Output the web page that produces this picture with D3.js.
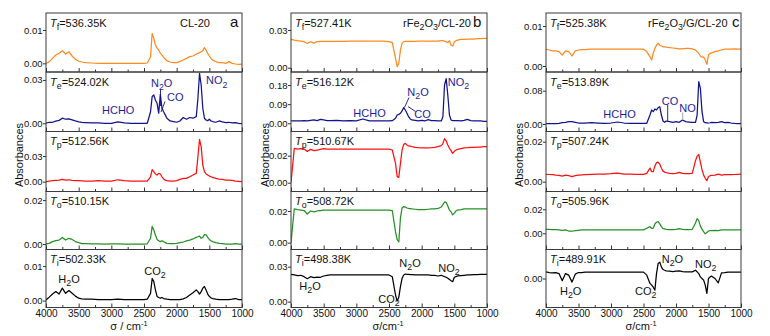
<!DOCTYPE html>
<html><head><meta charset="utf-8">
<script src="https://cdn.jsdelivr.net/npm/d3@7"></script>
<style>
body{margin:0;background:#fff}
svg{display:block}
text{font-family:"Liberation Sans",Arial,sans-serif;fill:#111}
</style>
</head><body>
<svg id="chart" width="770" height="336"></svg>
<script>
// ---------- DATA ----------
const wavenumbers = [
  4000,3950,3900,3850,3800,3750,3700,3650,3600,3550,3500,3450,3400,
  3300,3200,3100,3000,2900,2800,2700,2600,2500,
  2450,2400,2375,2350,2325,2300,2275,2250,2225,2200,2175,2150,
  2100,2050,2000,1950,1900,1850,1800,1750,1700,
  1675,1650,1625,1600,1575,1550,1525,1500,1475,1450,
  1400,1350,1300,1250,1200,1150,1100,1050,1000];
const xMajorTicks = [4000,3500,3000,2500,2000,1500,1000];
const xMinorTicks = [3750,3250,2750,2250,1750,1250];

// panel a : CL-20
const a_Tf = [0,.0005,.0015,.0025,.003,.0038,.0028,.0035,.0022,.0012,.0007,.0004,.0002,
  .0001,0,0,0,0,0,0,0,0,
  .0001,.002,.009,.0075,.0055,.0045,.004,.003,.0025,.0018,.0012,.0008,
  .0004,.0002,.0002,.0005,.001,.0015,.002,.0022,.0028,
  .003,.0032,.0035,.0038,.0047,.004,.003,.0022,.0015,.001,
  .0005,.0002,.0002,0,.0005,0,-.0002,-.0003,-.0002];
const a_Te = [0,.0007,.0007,.0015,.002,.0035,.0028,.003,.0023,.0016,.001,.0007,.0005,
  .0002,.0002,0,0,.001,.0002,0,0,0,
  0,.008,.0185,.0196,.016,.0138,.007,.02,.0104,.008,.0058,.0035,
  .0016,.0012,.0007,.0016,.004,.0028,.004,.0035,.0046,
  .017,.0346,.0265,.0104,.0035,.0023,.0018,.0028,.0016,.0012,
  .0007,.0016,.0009,.0005,.0007,.0002,.0005,0,-.0002];
const a_Tp = [0,.0008,.0012,.0016,.0019,.0027,.0019,.0023,.0016,.0014,.0012,.001,.0008,
  .0008,.0012,.0008,.0008,.0023,.0012,.0008,.0008,.0008,
  .0008,.0058,.014,.0117,.009,.0078,.0097,.009,.0058,.0031,.0019,.0012,
  .0008,.0008,.0012,.0027,.0039,.0039,.0058,.0078,.0097,
  .029,.0495,.041,.0195,.0117,.009,.0078,.0066,.0058,.005,
  .0039,.0031,.0027,.0019,.0019,.0016,.0008,.0004,0];
const a_To = [0,.0003,.0011,.0015,.0018,.003,.0018,.0026,.0021,.0011,.0006,.0002,.0002,
  .0001,.0001,0,.0001,.0001,0,0,0,0,
  .0001,.0026,.008,.0064,.0041,.0021,.0015,.0011,.0015,.0011,.0006,.0003,
  .0002,.0002,.0003,.0006,.0009,.0014,.0018,.0023,.003,
  .0033,.0036,.0026,.003,.0043,.0042,.003,.0021,.0015,.0011,
  .0006,.0003,.0002,0,0,0,.0002,0,0];
const a_Ti = [.0002,.001,.0019,.0026,.0019,.0036,.0021,.0029,.0021,.0013,.0007,.0005,.0004,
  .0004,.0003,.0003,.0003,.0004,.0003,.0003,.0003,.0003,
  .0004,.0021,.0064,.0055,.0031,.0012,.0009,.0007,.0009,.0006,.0005,.0004,
  .0003,.0003,.0003,.0003,.0005,.0009,.0016,.0023,.0031,
  .0026,.0019,.0026,.0036,.0041,.0031,.0019,.0012,.0008,.0006,
  .0004,.0003,.0003,.0003,.0003,.0004,.0006,.0003,.0003];

// panel b : rFe2O3/CL-20
const b_Tf = [.0226,.022,.0215,.0212,.0207,.0192,.0207,.0196,.0207,.021,.021,.021,.021,
  .021,.021,.0212,.0212,.0212,.0212,.0212,.0212,.0207,
  .0199,.0074,.0008,.0035,.0141,.0194,.0207,.021,.021,.021,.021,.021,
  .021,.0212,.0212,.0212,.0212,.0212,.0212,.0212,.0215,
  .0215,.0212,.0207,.0199,.0215,.018,.0173,.0207,.0215,.022,
  .0226,.0226,.0228,.0228,.0228,.0231,.0231,.0234,.0234];
const b_Te = [.011,.011,.011,.0118,.0125,.011,.0141,.0157,.0125,.0188,.0157,.0125,.0125,
  .0141,.011,.0125,.011,.0203,.011,.011,.011,.011,
  .0125,.0235,.039,.042,.047,.058,.0736,.0626,.047,.031,.0203,.0157,
  .0141,.011,.0141,.011,.0172,.0125,.0125,.011,.011,
  .031,.18,.21,.133,.039,.0157,.0125,.0125,.0125,.0125,
  .011,.0141,.0188,.0125,.011,.011,.011,.0094,.0094];
const b_Tp = [0,.0254,.0249,.0252,.0249,.0232,.0247,.0237,.0242,.0247,.0252,.0249,.0249,
  .0249,.0249,.0249,.0249,.0249,.0249,.0249,.0249,.0249,
  .0242,.0143,.0045,.004,.0143,.0242,.0284,.0291,.0279,.0272,.027,.0267,
  .0262,.0259,.0257,.0257,.0257,.0259,.0262,.0267,.0275,
  .029,.0326,.031,.0279,.0255,.0237,.0217,.0232,.0242,.0247,
  .0252,.0257,.0259,.0262,.0262,.0264,.0264,.0267,.0267];
const b_To = [0,.0213,.0209,.0206,.0203,.0181,.02,.0194,.02,.0203,.0206,.0206,.0206,
  .0206,.0206,.0206,.0206,.0206,.0206,.0206,.0206,.0206,
  .0203,.0068,.002,.0005,.0156,.0219,.0228,.0225,.0219,.0216,.0215,.0213,
  .0211,.0209,.0209,.0209,.0211,.0213,.0213,.0216,.0225,
  .024,.0257,.0255,.0232,.0206,.0194,.0175,.0187,.02,.0206,
  .0209,.0213,.0213,.0213,.0213,.0213,.0213,.0213,.0213];
const b_Ti = [.0234,.0229,.0223,.0226,.0214,.0197,.0214,.0206,.0211,.0209,.022,.0226,.0229,
  .0229,.0229,.0229,.0229,.0229,.0229,.0229,.0229,.0229,
  .0214,.0057,.0006,.0037,.0129,.02,.0229,.0237,.0234,.0234,.0231,.0231,
  .0229,.0229,.0229,.0229,.0229,.0226,.0226,.022,.0226,
  .022,.0214,.0209,.02,.0191,.018,.0171,.0209,.0214,.022,
  .0223,.0226,.0229,.0229,.0231,.0231,.0234,.0234,.0234];

// panel c : rFe2O3/G/CL-20
const c_Tf = [.0042,.004,.0038,.0038,.0036,.0027,.0038,.0036,.0025,.0038,.004,.0041,.0041,
  .0042,.0042,.0042,.0042,.0042,.0042,.0042,.0042,.0042,
  .0036,.0023,.0015,.0032,.0044,.0052,.0057,.0052,.005,.0048,.0048,.0047,
  .0046,.0045,.0044,.0043,.0043,.0044,.0044,.0043,.004,
  .0036,.0032,.0025,.0022,.0023,.0015,.0004,.0028,.0031,.0033,
  .0036,.0038,.004,.0042,.0042,.0042,.0043,.0042,.0042];
const c_Te = [.0008,.0008,.0008,.0012,.0016,.0032,.004,.0056,.0056,.004,.0024,.0024,.0024,
  .0032,.0024,.0016,.0024,.0048,.0024,.0016,.0016,.0016,
  .0016,.0216,.0336,.0296,.036,.0336,.0392,.0416,.0216,.0072,.004,.0072,
  .0056,.004,.0056,.004,.0096,.0056,.0048,.004,.004,
  .0216,.1016,.0856,.0296,.0056,.0032,.0028,.0024,.003,.004,
  .0032,.004,.0056,.0032,.004,.0024,.0016,.0012,.0008];
const c_Tp = [.0037,.0036,.0035,.0033,.0032,.0028,.0033,.003,.0025,.003,.0033,.0034,.0035,
  .0037,.0038,.0038,.004,.0043,.0038,.0038,.0037,.0037,
  .0042,.0068,.005,.005,.0078,.0095,.0098,.0088,.0067,.0053,.0048,.0045,
  .0042,.004,.0042,.0047,.0042,.004,.004,.0042,.0105,
  .0128,.0136,.0098,.006,.0033,.0017,.0005,.0026,.003,.0032,
  .0033,.0038,.0033,.0035,.0035,.0035,.0036,.0037,.0038];
const c_To = [.0033,.0032,.0031,.003,.0028,.0025,.0028,.0019,.0017,.0022,.0025,.0028,.0028,
  .0028,.0028,.0028,.0028,.0028,.0028,.0028,.0028,.0028,
  .0042,.0055,.004,.0042,.0078,.0092,.0097,.0078,.0055,.0039,.0036,.0033,
  .0031,.0031,.0033,.0039,.0033,.0031,.0031,.0033,.0085,
  .0122,.0105,.006,.0035,.0014,-.0004,.0006,.0019,.0022,.0022,
  .0025,.0022,.0028,.0028,.0028,.0028,.0028,.0028,.0028];
const c_Ti = [.0046,.0041,.0039,.0041,.0034,-.0015,.0034,.0023,-.0025,.003,.0041,.0041,.0044,
  .0044,.0044,.0044,.0044,.0044,.0044,.0044,.0044,.0044,
  .0023,-.0034,-.0046,-.006,-.008,.0034,.0103,.0112,.008,.0062,.0057,.0053,
  .0051,.0048,.0051,.0053,.0048,.0046,.0046,.0046,.0057,
  .0046,.0034,.0011,0,-.0011,-.0046,-.0103,0,.0011,.0016,
  0,-.003,.0039,.0041,.0044,.0044,.0044,.0044,.0044];

const stageSubs = ["f","e","p","o","i"];
const a_temps = ["536.35","524.02","512.56","510.15","502.33"];
const b_temps = ["527.41","516.12","510.67","508.72","498.38"];
const c_temps = ["525.38","513.89","507.24","505.96","489.91"];
const a_yTicks = [[0,.01],[0,.03],[0,.03],[0,.02],[0,.01]];
const b_yTicks = [[0,.03],[0,.09,.18],[0,.02],[0,.02],[0,.03]];
const c_yTicks = [[0,.01],[0,.08],[0,.02],[0,.02],[0]];

// ---------- LAYOUT ----------
const subEdges = [13,72,131.5,191.5,249.5,307.5];
const colors = ["#FF8A1E","#12128C","#FF1010","#259025","#000000"];
const panels = [
  {left:46,right:242,series:[a_Tf,a_Te,a_Tp,a_To,a_Ti],temps:a_temps,yTicks:a_yTicks,
   yDom:[[-.0026,.0151],[-.0057,.0355],[-.0114,.0586],[-.0025,.0239],[-.002,.0148]],
   title:"CL-20",titleX:180,letter:"a",letterX:230,ylabX:23,xlabX:129,xlab:"σ / cm^{-1}"},
  {left:291,right:487,series:[b_Tf,b_Te,b_Tp,b_To,b_Ti],temps:b_temps,yTicks:b_yTicks,
   yDom:[[-.0034,.0435],[-.0385,.2411],[-.0065,.0379],[-.0043,.0323],[-.005,.0447]],
   title:"rFe_{2}O_{3}/CL-20",titleX:403,letter:"b",letterX:473,ylabX:268.5,xlabX:388,xlab:"σ/cm^{-1}"},
  {left:546,right:741,series:[c_Tf,c_Te,c_Tp,c_To,c_Ti],temps:c_temps,yTicks:c_yTicks,
   yDom:[[-.0015,.01325],[-.018,.1249],[-.0049,.0251],[-.0135,.0348],[-.02,.02]],
   title:"rFe_{2}O_{3}/G/CL-20",titleX:648,letter:"c",letterX:732,ylabX:523,xlabX:641,xlab:"σ/cm^{-1}"}
];
// annotations: [panel, text, x, y, color]
const annotations = [
  [0,"HCHO",102,114.3,"#1E1E96"],[0,"N_{2}O",151,87,"#1E1E96"],[0,"CO",167,101,"#1E1E96"],[0,"NO_{2}",206,84.3,"#1E1E96"],
  [0,"H_{2}O",58.3,282.5,"#111"],[0,"CO_{2}",144.3,275,"#111"],
  [1,"HCHO",353.3,116.5,"#1E1E96"],[1,"N_{2}O",407.3,96,"#1E1E96"],[1,"CO",414.3,117.5,"#1E1E96"],[1,"NO_{2}",447.7,85.7,"#1E1E96"],
  [1,"H_{2}O",299.3,290,"#111"],[1,"N_{2}O",399.3,267,"#111"],[1,"CO_{2}",378.3,303,"#111"],[1,"NO_{2}",438.3,271.5,"#111"],
  [2,"HCHO",603.3,118.3,"#1E1E96"],[2,"CO",661.7,105,"#1E1E96"],[2,"NO",679.3,111.7,"#1E1E96"],
  [2,"H_{2}O",560,295,"#111"],[2,"CO_{2}",635,295,"#111"],[2,"N_{2}O",661.7,263,"#111"],[2,"NO_{2}",695,268,"#111"]
];
// leader lines [x1,y1,x2,y2,color]
const leaders = [
  [160.5,89,160.5,106,"#12128C"],[165,101.5,161,112,"#12128C"],
  [409,97.5,404.5,107.5,"#12128C"],[415.5,111.5,408,106.5,"#12128C"],
  [667.7,105,667.7,121.7,"#12128C"],[682.7,112.7,682.7,120,"#9a9aaa"]
];

// ---------- DRAW ----------
const svg = d3.select("#chart");
function rich(sel, str, size){
  const parts = str.split(/(_\{[^}]*\}|\^\{[^}]*\}|\*\{[^}]*\})/).filter(s=>s.length);
  let shift = 0;
  parts.forEach(p=>{
    let target=0, fs=size, content=p, italic=false;
    if(p.startsWith("_{")){content=p.slice(2,-1);target=size*0.3;fs=size*0.8;}
    else if(p.startsWith("^{")){content=p.slice(2,-1);target=-size*0.36;fs=size*0.68;}
    else if(p.startsWith("*{")){content=p.slice(2,-1);italic=true;}
    const t = sel.append("tspan").attr("dy",target-shift).attr("font-size",fs).text(content);
    if(italic) t.attr("font-style","italic");
    shift = target;
  });
}
const line = (x,y)=>d3.line().x((d,i)=>x(wavenumbers[i])).y(d=>y(d));

panels.forEach((P,pi)=>{
  const x = d3.scaleLinear().domain([4000,1000]).range([P.left,P.right]);
  P.series.forEach((s,si)=>{
    if(s.length!==wavenumbers.length) throw new Error("length "+pi+" "+si+" "+s.length);
    const top=subEdges[si], bot=subEdges[si+1];
    const y = d3.scaleLinear().domain(P.yDom[si]).range([bot,top]);
    const g = svg.append("g");
    const cid = "clip"+pi+"_"+si;
    g.append("clipPath").attr("id",cid).append("rect")
      .attr("x",P.left).attr("y",top).attr("width",P.right-P.left).attr("height",bot-top);
    g.append("path").datum(s).attr("d",line(x,y)).attr("fill","none")
      .attr("stroke",colors[si]).attr("stroke-width",1.25).attr("stroke-linejoin","round")
      .attr("clip-path","url(#"+cid+")");
    // y axis
    const ya = g.append("g").attr("transform",`translate(${P.left},0)`)
      .call(d3.axisLeft(y).tickValues(P.yTicks[si]).tickSize(3).tickPadding(0.5).tickFormat(d3.format(".2f")));
    ya.select(".domain").remove();
    ya.selectAll("line").attr("stroke","#333");
    ya.selectAll("text").attr("font-size",9.5).attr("fill","#111")
      .attr("font-family","Liberation Sans, Arial, sans-serif");
    // x ticks (inward)
    const xa = g.append("g").attr("transform",`translate(0,${bot})`)
      .call(d3.axisBottom(x).tickValues(xMajorTicks).tickSize(-4).tickPadding(7).tickFormat(si===4?d3.format("d"):""));
    xa.select(".domain").remove();
    xa.selectAll("line").attr("stroke","#333");
    xa.selectAll("text").attr("font-size",10).attr("fill","#111")
      .attr("font-family","Liberation Sans, Arial, sans-serif").attr("dy","0.71em").attr("y",2.8);
    const xm = g.append("g").attr("transform",`translate(0,${bot})`)
      .call(d3.axisBottom(x).tickValues(xMinorTicks).tickSize(-2.5).tickFormat(""));
    xm.select(".domain").remove();
    xm.selectAll("line").attr("stroke","#333");
    // frame
    g.append("rect").attr("x",P.left).attr("y",top).attr("width",P.right-P.left).attr("height",bot-top)
      .attr("fill","none").attr("stroke","#3a3a3a").attr("stroke-width",1);
    // temperature label
    const t = g.append("text").attr("x",P.left+4).attr("y",top+13.5).attr("font-size",11);
    rich(t,"*{T}_{"+stageSubs[si]+"}="+P.temps[si]+"K",11);
  });
  // title & letter
  rich(svg.append("text").attr("x",P.titleX).attr("y",26.7).attr("font-size",11),P.title,11);
  svg.append("text").attr("x",P.letterX).attr("y",26.5).attr("font-size",15).text(P.letter);
  // y label
  svg.append("text").attr("transform",`translate(${P.ylabX},155) rotate(-90)`)
    .attr("text-anchor","middle").attr("font-size",11).text("Absorbances");
  // x label
  rich(svg.append("text").attr("x",P.xlabX).attr("y",330).attr("text-anchor","middle").attr("font-size",11),P.xlab,11);
});

leaders.forEach(l=>{
  svg.append("line").attr("x1",l[0]).attr("y1",l[1]).attr("x2",l[2]).attr("y2",l[3])
    .attr("stroke",l[4]).attr("stroke-width",0.9);
});
annotations.forEach(a=>{
  const t = svg.append("text").attr("x",a[2]).attr("y",a[3]).attr("font-size",11).style("fill",a[4]);
  rich(t,a[1],11);
});
</script>
</body></html>
